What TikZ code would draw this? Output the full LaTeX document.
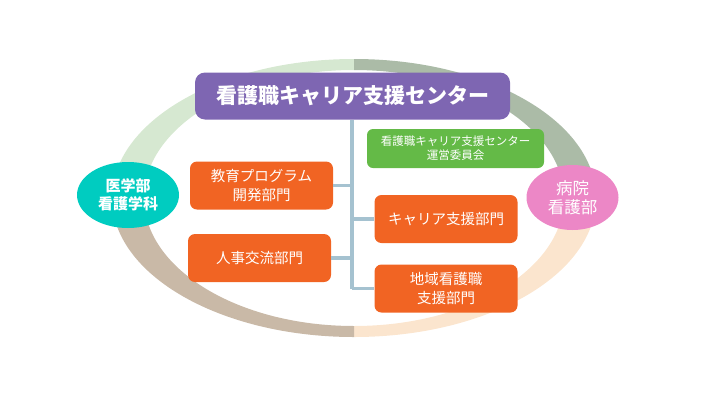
\documentclass[tikz,border=0pt]{standalone}
\usepackage{fontspec}
\setmainfont{Noto Sans CJK JP}
\usetikzlibrary{positioning}
\definecolor{ringgreen}{HTML}{D6E8D1}
\definecolor{ringgray}{HTML}{ABBBA7}
\definecolor{ringpeach}{HTML}{FBE5CE}
\definecolor{ringtan}{HTML}{C9B9A7}
\definecolor{centerpurple}{HTML}{7E66B2}
\definecolor{boardgreen}{HTML}{64BA47}
\definecolor{deptorange}{HTML}{F16423}
\definecolor{schoolteal}{HTML}{00CCC0}
\definecolor{hosppink}{HTML}{EC87C6}
\definecolor{trunkblue}{HTML}{A5C2D0}
\tikzset{
  dept/.style={fill=deptorange,rounded corners=7pt,text=white,align=center,
    inner sep=0pt,minimum width=143pt,minimum height=48pt,font=\fontsize{14.5}{19}\selectfont},
  partner/.style={ellipse,text=white,align=center,inner sep=0pt,font=\fontsize{15}{18}\selectfont},
  trunk/.style={trunkblue,line width=3.5pt}
}
\usetikzlibrary{shapes.geometric}
\begin{document}
\begin{tikzpicture}[x=1pt,y=-1pt]
  \useasboundingbox (0,0) rectangle (720,405);
  % ring, four quarters round (354,198)
  \foreach \col/\qx/\qy in {ringgreen/0/0,ringgray/720/0,ringpeach/720/405,ringtan/0/405}{
    \begin{scope}
      \clip (354,198) rectangle (\qx,\qy);
      \fill[\col,even odd rule] (354,198) ellipse [x radius=242,y radius=139]
                               (354,198) ellipse [x radius=210,y radius=128];
    \end{scope}
  }
  % centre box
  \node[fill=centerpurple,rounded corners=10pt,text=white,inner sep=0pt,
        minimum width=315pt,minimum height=47pt,font=\fontsize{21}{24}\selectfont\bfseries]
        (center) at (352.5,96) {看護職キャリア支援センター};
  % board
  \node[fill=boardgreen,rounded corners=6pt,text=white,align=center,inner sep=0pt,
        minimum width=177pt,minimum height=39pt,font=\fontsize{11.5}{14}\selectfont]
        (board) at (455.5,148.5) {看護職キャリア支援センター\\運営委員会};
  % departments
  \node[dept] (edu)    at (261.5,185.5) {教育プログラム\\開発部門};
  \node[dept] (staff)  at (259.5,258)   {人事交流部門};
  \node[dept] (career) at (446,219)     {キャリア支援部門};
  \node[dept] (region) at (446,288.5)   {地域看護職\\支援部門};
  % partners
  \node[partner,fill=schoolteal,minimum width=102pt,minimum height=66pt,font=\fontsize{15}{18}\selectfont\bfseries]
        (school) at (128,195) {医学部\\看護学科};
  \node[partner,fill=hosppink,minimum width=92pt,minimum height=65pt,font=\fontsize{16.5}{19}\selectfont]
        (hospital) at (572.5,197.5) {病院\\看護部};
  % trunk and branches
  \coordinate (trunkend) at (352,0);
  \draw[trunk] (center.south -| trunkend) -- (region.west -| trunkend);
  \draw[trunk] (edu.east) -- (edu.east -| trunkend);
  \draw[trunk] (staff.east) -- (staff.east -| trunkend);
  \draw[trunk] (career.west) -- (career.west -| trunkend);
  \draw[trunk] (region.west) -- (region.west -| trunkend);
\end{tikzpicture}
\end{document}
